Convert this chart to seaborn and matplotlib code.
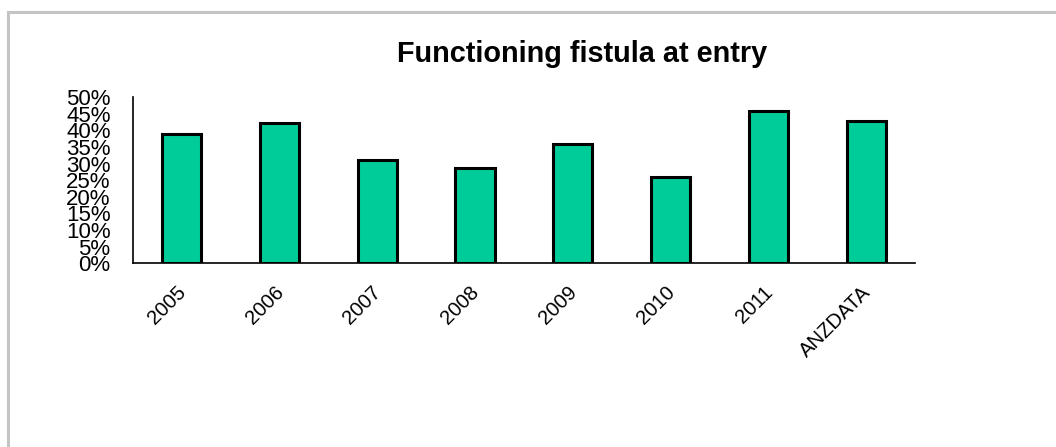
import matplotlib
matplotlib.use("Agg")
import matplotlib.pyplot as plt
from matplotlib.patches import Rectangle
from matplotlib.ticker import MultipleLocator, FuncFormatter
from matplotlib.transforms import ScaledTranslation
import seaborn as sns
import pandas as pd

# Share of patients with a functioning fistula at entry (%)
categories = ["2005", "2006", "2007", "2008", "2009", "2010", "2011", "ANZDATA"]
fistula_pct = [39.0, 42.3, 31.0, 28.8, 35.8, 26.0, 45.7, 42.9]

sns.set_style("white")
plt.rcParams["font.family"] = ["Liberation Sans", "DejaVu Sans"]

df = pd.DataFrame({"category": categories, "pct": fistula_pct})

fig = plt.figure(figsize=(10.56, 4.47), dpi=100)
ax = fig.add_axes([0.1257, 0.411, 0.7408, 0.372])

sns.barplot(data=df, x="category", y="pct", color="#00CC99", width=0.4,
            edgecolor="black", linewidth=2.2, saturation=1, ax=ax)

ax.set_ylim(0, 50)
ax.yaxis.set_major_locator(MultipleLocator(5))
ax.yaxis.set_major_formatter(FuncFormatter(lambda v, _: f"{v:.0f}%"))
ax.set_xlim(-0.5, len(categories) - 0.5)
ax.set_xlabel("")
ax.set_ylabel("")

for side in ("top", "right"):
    ax.spines[side].set_visible(False)
for side in ("left", "bottom"):
    ax.spines[side].set_color("black")
    ax.spines[side].set_linewidth(1.2)

ax.tick_params(axis="y", length=0, pad=16, labelsize=16, labelcolor="black")
ax.tick_params(axis="x", length=0, pad=14, labelsize=14.6, labelcolor="black")
shift = ScaledTranslation(-4 / 72, 0, fig.dpi_scale_trans)
for lbl in ax.get_xticklabels():
    lbl.set_rotation(45)
    lbl.set_rotation_mode("anchor")
    lbl.set_ha("right")
    lbl.set_va("top")
    lbl.set_transform(lbl.get_transform() + shift)

fig.text(0.551, 0.862, "Functioning fistula at entry", ha="center",
         va="baseline", fontsize=20.8, fontweight="bold", color="black")

# light grey frame around the chart area
fig.patches.append(Rectangle((8 / 1056, -0.2), 1.2, 1.2 - 12 / 447,
                             transform=fig.transFigure, fill=False,
                             edgecolor="#c4c4c4", linewidth=2.2))

fig.savefig("out.png", dpi=100)
